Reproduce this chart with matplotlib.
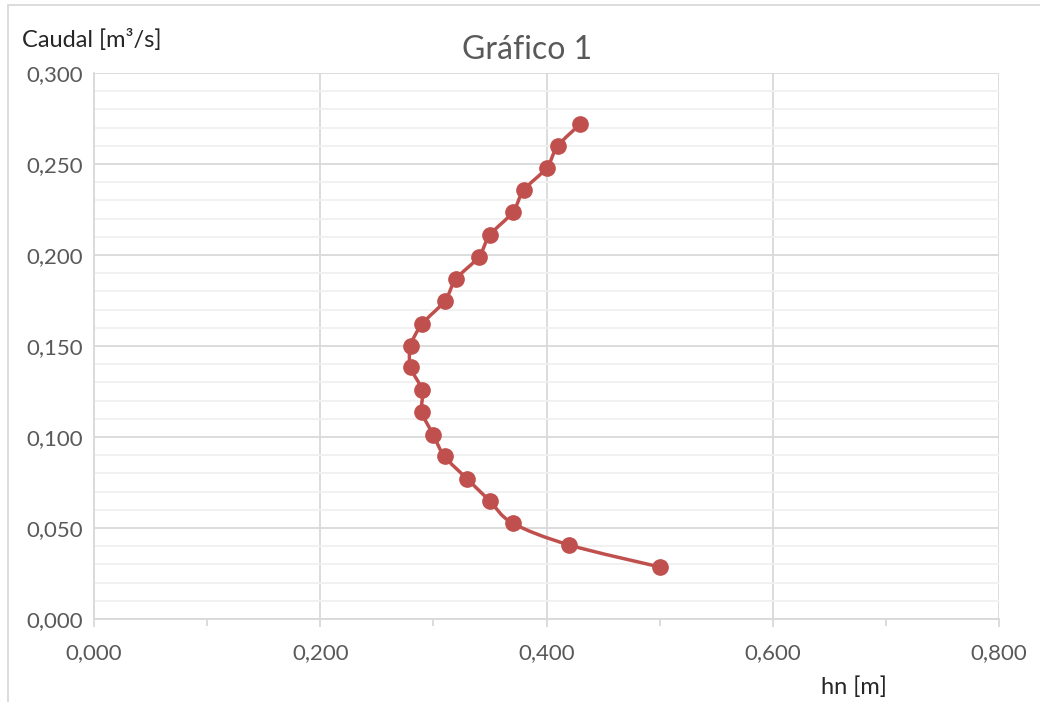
import numpy as np
import matplotlib.pyplot as plt
from matplotlib.path import Path
from matplotlib.patches import PathPatch, Rectangle
from matplotlib.ticker import MultipleLocator, FuncFormatter

plt.rcParams['font.family'] = ['Lato', 'DejaVu Sans']

# data
hn = [0.50, 0.42, 0.37, 0.35, 0.33, 0.31, 0.30, 0.29, 0.29, 0.28, 0.28,
      0.29, 0.31, 0.32, 0.34, 0.35, 0.37, 0.38, 0.40, 0.41, 0.43]
caudal = [0.0286, 0.0407, 0.0527, 0.0648, 0.0769, 0.0893, 0.1011, 0.1137,
          0.1258, 0.1382, 0.1500, 0.1620, 0.1747, 0.1868, 0.1989, 0.2110,
          0.2234, 0.2357, 0.2478, 0.2599, 0.2720]

red = '#C0504D'
grid_major = '#D9D9D9'
grid_minor = '#F0F0F0'
txt = '#595959'

fig = plt.figure(figsize=(10.4, 7.02), dpi=100)
ax = fig.add_axes([94 / 1040, 1 - 619 / 702, 905 / 1040, 546 / 702])

ax.set_xlim(0, 0.8)
ax.set_ylim(0, 0.3)

# smooth line like Excel: cubic bezier through points (in display space)
pts = ax.transData.transform(np.column_stack([hn, caudal]))
n = len(pts)
verts = [pts[0]]
codes = [Path.MOVETO]
for i in range(n - 1):
    p0 = pts[max(i - 1, 0)]
    p1 = pts[i]
    p2 = pts[i + 1]
    p3 = pts[min(i + 2, n - 1)]
    c1 = p1 + (p2 - p0) / 6
    c2 = p2 - (p3 - p1) / 6
    verts += [c1, c2, p2]
    codes += [Path.CURVE4] * 3
path = Path(verts, codes)
ax.add_patch(PathPatch(path, transform=None, fill=False, edgecolor=red,
                       lw=2.5, zorder=3, clip_on=False))
ax.plot(hn, caudal, 'o', color=red, ms=11, zorder=4, clip_on=False)

ax.xaxis.set_major_locator(MultipleLocator(0.2))
ax.xaxis.set_minor_locator(MultipleLocator(0.1))
ax.yaxis.set_major_locator(MultipleLocator(0.05))
ax.yaxis.set_minor_locator(MultipleLocator(0.01))
fmt3 = FuncFormatter(lambda v, p: f'{v:.3f}'.replace('.', ','))
ax.xaxis.set_major_formatter(fmt3)
ax.yaxis.set_major_formatter(fmt3)

ax.grid(which='major', color=grid_major, lw=1.3, zorder=0)
ax.grid(which='minor', axis='y', color=grid_minor, lw=1.3, zorder=0)
ax.set_axisbelow(True)

for s in ['top', 'right']:
    ax.spines[s].set_visible(False)
ax.spines['left'].set_color(grid_major)
ax.spines['bottom'].set_color(grid_major)
ax.spines['left'].set_linewidth(1.3)
ax.spines['bottom'].set_linewidth(1.3)

ax.tick_params(axis='x', which='both', direction='out', color=grid_major,
               width=1.3, labelsize=16, labelcolor=txt, pad=11)
ax.tick_params(axis='x', which='major', length=6)
ax.tick_params(axis='x', which='minor', length=5)
ax.tick_params(axis='y', which='both', length=0, labelsize=16,
               labelcolor=txt, pad=8)

fig.text(527 / 1040, 1 - 50 / 702, 'Gráfico 1', ha='center', va='center',
         fontsize=23, color=txt)
fig.text(22 / 1040, 1 - 40 / 702, 'Caudal [m³/s]', ha='left', va='center',
         fontsize=17, color='#262626')
fig.text(854 / 1040, 1 - 687 / 702, 'hn [m]', ha='center', va='center',
         fontsize=17, color='#262626')

# chart border (left and top visible)
fig.patches.append(Rectangle((8 / 1040, -0.05), 1.2, 1 - 5 / 702 + 0.05,
                             transform=fig.transFigure, fill=False,
                             edgecolor='#D9D9D9', lw=1.3))

fig.savefig('out.png', dpi=100)
